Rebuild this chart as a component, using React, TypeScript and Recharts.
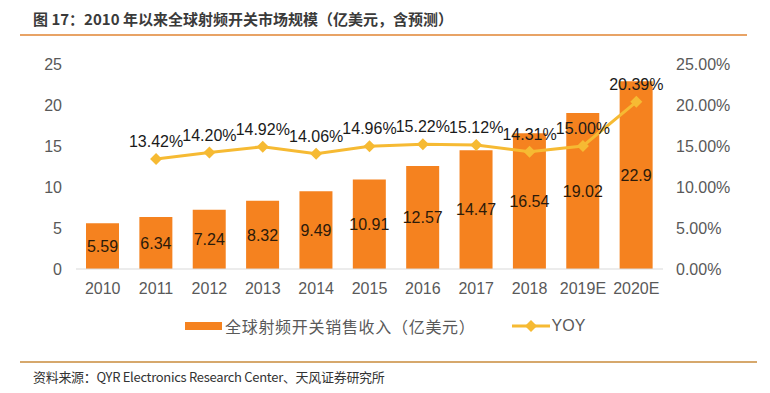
import React from "react"
import {
  ComposedChart,
  Bar,
  Line,
  XAxis,
  YAxis,
  LabelList,
} from "recharts"

const years = ["2010", "2011", "2012", "2013", "2014", "2015", "2016", "2017", "2018", "2019E", "2020E"]
const revenue = [5.59, 6.34, 7.24, 8.32, 9.49, 10.91, 12.57, 14.47, 16.54, 19.02, 22.9]
const yoy = [null, 13.42, 14.2, 14.92, 14.06, 14.96, 15.22, 15.12, 14.31, 15.0, 20.39]
const leftTicks = [0, 5, 10, 15, 20, 25]
const rightTicks = [0, 5, 10, 15, 20, 25]

const BAR_COLOR = "#F5821F"
const LINE_COLOR = "#F6BA33"
const AXIS_TEXT = "#595959"
const FONT = "'Liberation Sans', Arial, sans-serif"
const CJK = "'Noto Sans CJK SC', sans-serif"

const chartData = years.map((year, i) => ({
  year,
  revenue: revenue[i],
  yoy: yoy[i],
}))

const Diamond = (props: { cx?: number; cy?: number; index?: number; value?: number | null }) => {
  const { cx, cy, index, value } = props
  if (cx == null || cy == null || value == null) return <g key={`d-${index}`} />
  const r = 6
  return (
    <path
      key={`d-${index}`}
      d={`M${cx},${cy - r}L${cx + r},${cy}L${cx},${cy + r}L${cx - r},${cy}Z`}
      fill={LINE_COLOR}
    />
  )
}

export default function App() {
  return (
    <div style={{ position: "absolute", left: 0, top: 0, width: 770, height: 393, background: "#fff" }}>
      <div
        style={{
          position: "absolute",
          left: 33,
          top: 8,
          fontFamily: CJK,
          fontSize: 15,
          fontWeight: 700,
          color: "#3a3a3a",
          whiteSpace: "nowrap",
        }}
      >
        图 17：2010 年以来全球射频开关市场规模（亿美元，含预测）
      </div>
      <div style={{ position: "absolute", left: 20, top: 34, width: 727, height: 2, background: "#E8A366" }} />

      <div style={{ position: "absolute", left: 0, top: 0 }}>
        <ComposedChart
          width={770}
          height={310}
          data={chartData}
          margin={{ top: 64, right: 0, bottom: 0, left: 0 }}
        >
          <XAxis
            dataKey="year"
            height={41}
            tickLine={false}
            tickSize={0}
            tickMargin={14}
            axisLine={{ stroke: "#D9D9D9", strokeWidth: 1 }}
            tick={{ fill: AXIS_TEXT, fontSize: 16, fontFamily: FONT }}
            interval={0}
          />
          <YAxis
            yAxisId="left"
            width={76}
            domain={[0, 25]}
            ticks={leftTicks}
            axisLine={false}
            tickLine={false}
            tickSize={0}
            tickMargin={14}
            tick={{ fill: AXIS_TEXT, fontSize: 16, fontFamily: FONT }}
          />
          <YAxis
            yAxisId="right"
            orientation="right"
            width={107}
            domain={[0, 25]}
            ticks={rightTicks}
            axisLine={false}
            tickLine={false}
            tickSize={0}
            tickMargin={13}
            tickFormatter={(v: number) => `${v.toFixed(2)}%`}
            tick={{ fill: AXIS_TEXT, fontSize: 16, fontFamily: FONT }}
          />
          <Bar yAxisId="left" dataKey="revenue" fill={BAR_COLOR} barSize={33} isAnimationActive={false}>
            <LabelList
              dataKey="revenue"
              position="center"
              fill="#2b1a0a"
              fontSize={16}
              fontFamily={FONT}
            />
          </Bar>
          <Line
            yAxisId="right"
            dataKey="yoy"
            stroke={LINE_COLOR}
            strokeWidth={3}
            dot={Diamond}
            activeDot={false}
            connectNulls={false}
            isAnimationActive={false}
          >
            <LabelList
              dataKey="yoy"
              position="top"
              offset={12}
              fill="#1a1a1a"
              fontSize={16}
              fontFamily={FONT}
              formatter={(v: number | null) => (v == null ? "" : `${v.toFixed(2)}%`)}
            />
          </Line>
        </ComposedChart>
      </div>

      <div
        style={{
          position: "absolute",
          left: 185,
          top: 314,
          display: "flex",
          alignItems: "center",
          fontFamily: CJK,
          fontSize: 16,
          color: AXIS_TEXT,
          whiteSpace: "nowrap",
        }}
      >
        <span style={{ display: "inline-block", width: 37, height: 8, background: BAR_COLOR, marginRight: 3 }} />
        <span style={{ letterSpacing: 0.7 }}>全球射频开关销售收入（亿美元）</span>
        <svg width={38} height={14} style={{ marginLeft: 36, marginRight: 2 }}>
          <line x1={0} y1={7} x2={38} y2={7} stroke={LINE_COLOR} strokeWidth={3} />
          <path d="M19,1L25,7L19,13L13,7Z" fill={LINE_COLOR} />
        </svg>
        <span style={{ fontFamily: FONT }}>YOY</span>
      </div>

      <div style={{ position: "absolute", left: 20, top: 361, width: 737, height: 2, background: "#D6A86C" }} />
      <div
        style={{
          position: "absolute",
          left: 33,
          top: 367,
          fontFamily: CJK,
          fontSize: 13,
          letterSpacing: -0.3,
          color: "#333",
          whiteSpace: "nowrap",
        }}
      >
        资料来源：QYR Electronics Research Center、天风证券研究所
      </div>
    </div>
  )
}
